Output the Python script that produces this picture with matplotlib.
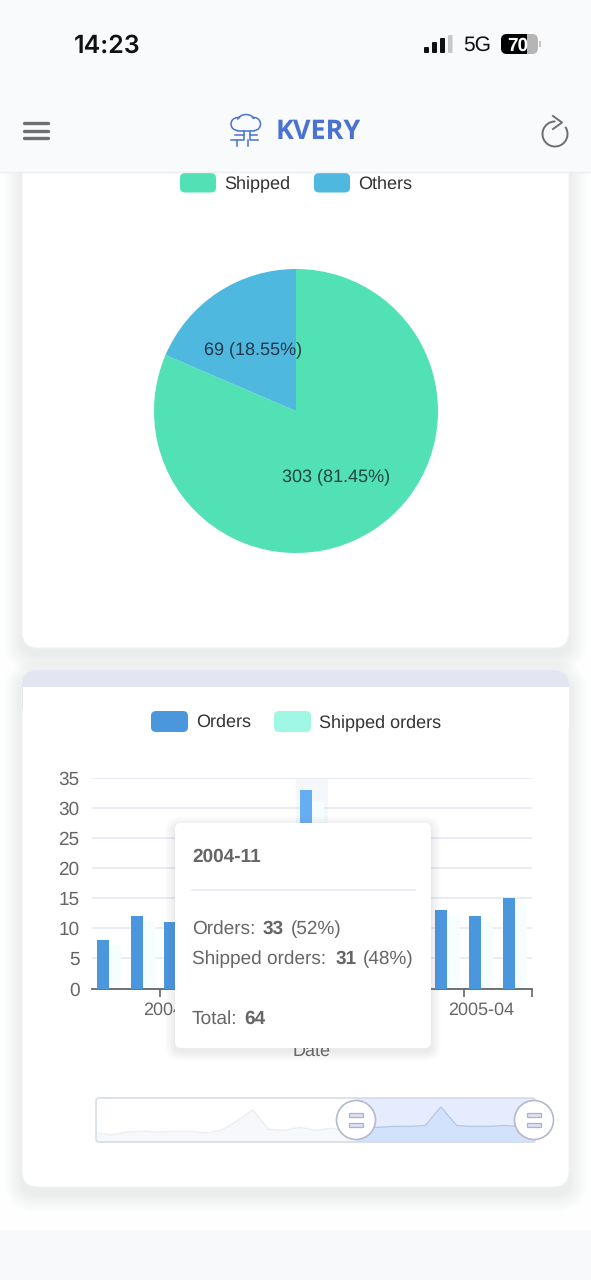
#!/usr/bin/env python3

import matplotlib
matplotlib.use('Agg')
import matplotlib.pyplot as plt
from matplotlib.patches import FancyBboxPatch, Rectangle, Circle, Arc

plt.rcParams['font.family'] = ['Liberation Sans', 'DejaVu Sans']
plt.rcParams['text.hinting'] = 'no_hinting'
plt.rcParams['text.hinting_factor'] = 1

W, H = 591, 1280

# pie
pie_labels = ['Shipped', 'Others']
pie_values = [303, 69]
pie_text = ['303 (81.45%)', '69 (18.55%)']
pie_colors = ['#52e0b5', '#4fb8de']

# bars, only the zoomed window of months
months = ['2004-05', '2004-06', '2004-07', '2004-08', '2004-09', '2004-10', '2004-11',
          '2004-12', '2005-01', '2005-02', '2005-03', '2005-04', '2005-05']
orders = [8, 12, 11, 12, 12, 13, 33, 13, 12, 12, 13, 12, 15]
shipped = [7, 11, 10, 12, 11, 13, 31, 12, 12, 11, 12, 11, 14]

# slider shadow, 2003-01 to 2005-05
shadow = [5, 3, 6, 7, 6, 7, 7, 5, 8, 18, 30, 9, 8, 11, 8, 10,
          8, 12, 11, 12, 12, 13, 33, 13, 12, 12, 13, 12, 15]

fig = plt.figure(figsize=(W / 100, H / 100), dpi=100, facecolor='#fefefe')


def px_axes(left, top, right, bottom, zorder):
    return fig.add_axes([left / W, 1 - bottom / H, (right - left) / W, (bottom - top) / H], zorder=zorder)


def rbox(ax, x0, y0, x1, y1, r, **kw):
    p = FancyBboxPatch((x0 + r, y0 + r), x1 - x0 - 2 * r, y1 - y0 - 2 * r,
                       boxstyle='round,pad=%g,rounding_size=%g' % (r, r), **kw)
    ax.add_patch(p)
    return p


def soft_shadow(ax, x0, y0, x1, y1, r, dy=2, steps=8, fc='#a8aab2', alpha=0.012):
    for i in range(steps, 0, -1):
        rbox(ax, x0 - i, y0 - i + dy, x1 + i, y1 + i + dy, r + i, fc=fc, ec='none', alpha=alpha)


# page background and cards
bg = px_axes(0, 0, W, H, 0)
bg.set_xlim(0, W)
bg.set_ylim(H, 0)
bg.axis('off')
soft_shadow(bg, 22, 120, 569, 648, 16, dy=7, steps=18)
rbox(bg, 22, 120, 569, 648, 16, fc='white', ec='#f1f2f4', lw=0.8)
soft_shadow(bg, 22, 670, 569, 1187, 16, dy=7, steps=18)
rbox(bg, 22, 670, 569, 1187, 16, fc='white', ec='#f1f2f4', lw=0.8)
rbox(bg, 22, 670, 569, 720, 16, fc='#e3e6f2', ec='none')
bg.add_patch(Rectangle((22.5, 687), 546, 40, fc='white', ec='none'))
bg.add_patch(Rectangle((0, 1230), W, 50, fc='#f8f9fb', ec='none'))

# pie chart
r = 142
pie_ax = px_axes(296 - r, 411 - r, 296 + r, 411 + r, 1)
pie_ax.pie(pie_values, colors=pie_colors, startangle=90, counterclock=False, radius=1)
pie_ax.set_xlim(-1, 1)
pie_ax.set_ylim(-1, 1)
pie_ax.text((336.5 - 296) / r, (411 - 476.5) / r, pie_text[0], fontsize=13, color='#224444', ha='center', va='center')
pie_ax.text((253.5 - 296) / r, (411 - 350) / r, pie_text[1], fontsize=13, color='#24384a', ha='center', va='center')

# bar chart
ax = px_axes(92, 778, 532, 988.5, 1)
x = list(range(len(months)))
ax.axvspan(5.5 + 0.03, 6.5 - 0.03, color='#eef3f9', alpha=0.6, lw=0, zorder=0)
ax.bar([i - 0.18 for i in x], orders, width=0.36, color=['#66aef2' if i == 6 else '#4b97dd' for i in x], zorder=3)
ax.bar([i + 0.18 for i in x], shipped, width=0.36, color='#f5fdfd', zorder=2)
ax.set_xlim(-0.5, 12.5)
ax.set_ylim(0, 35)
ax.set_yticks(range(0, 40, 5))
ax.yaxis.grid(True, color='#e6e9f5', lw=1.2)
ax.set_axisbelow(True)
ax.tick_params(axis='y', length=0, labelsize=13.4, labelcolor='#666666', pad=9)
ax.set_xticks([1.5, 4.5, 7.5, 10.5, 12.5])
ax.set_xticklabels([])
ax.tick_params(axis='x', length=6, width=1.2, color='#666666')
# the labels of 2004-10 and 2005-01 sit fully under the tooltip
for i in [2, 11]:
    ax.text(i, -3.6, months[i], fontsize=13.2, color='#666666', ha='center', va='center')
ax.text(6, -10.4, 'Date', fontsize=13, color='#666666', ha='center', va='center')
for s in ['top', 'left', 'right']:
    ax.spines[s].set_visible(False)
ax.spines['bottom'].set_color('#666666')
ax.spines['bottom'].set_linewidth(1.3)
ax.patch.set_alpha(0)

# slider
sl = px_axes(96, 1098, 535, 1142, 1)
sx = list(range(len(shadow)))
sel0, sel1 = 16.6, 28
sl.fill_between(sx, shadow, -4.7, color='#f7f8fb', lw=0)
sl.plot(sx, shadow, color='#eceef3', lw=1)
sl.axvspan(sel0, sel1, color='#e4ecfd', lw=0)
sel_x = [sel0] + [i for i in sx if i > sel0]
sel_y = [shadow[16] + (shadow[17] - shadow[16]) * 0.6] + [shadow[i] for i in sx if i > sel0]
sl.fill_between(sel_x, sel_y, -4.7, color='#d3e2fc', lw=0)
sl.plot(sel_x, sel_y, color='#b4c8ec', lw=1)
sl.set_xlim(0, 28)
sl.set_ylim(-4.7, 42.6)
sl.axis('off')

# overlay: app bar, legends, tooltip, slider handles
ov = px_axes(0, 0, W, H, 5)
ov.set_xlim(0, W)
ov.set_ylim(H, 0)
ov.axis('off')
ov.patch.set_alpha(0)

rbox(ov, 96, 1098, 535, 1142, 3, fc='none', ec='#d6dbe8', lw=1.2)

ov.add_patch(Rectangle((0, 0), W, 172, fc='#f9fafc', ec='none'))
ov.plot([0, W], [172, 172], color='#eceef1', lw=1)
ov.text(74, 46, '14:23', fontsize=18, family='Inter', weight='semibold', color='#111111', va='center')

# signal bars
for bx, bw, bh, c in [(424, 5, 6, '#111111'), (432, 5, 11, '#111111'), (440, 5, 15, '#111111'), (448, 4.5, 18, '#c8c8c8')]:
    rbox(ov, bx, 53 - bh, bx + bw, 53, 1, fc=c, ec='none')
ov.text(463, 45.5, '5G', fontsize=15, color='#111111', va='center')
rbox(ov, 501, 34, 538, 54, 6, fc='#b5b5b5', ec='none')
rbox(ov, 501, 34, 527, 54, 6, fc='#000000', ec='none')
ov.add_patch(Rectangle((521, 34), 6, 20, fc='#000000', ec='none'))
ov.text(518, 46, '70', fontsize=14, weight='bold', color='white', ha='center', va='center')
ov.add_patch(Rectangle((539, 41), 1.5, 6, fc='#c8c8c8', ec='none'))

# hamburger
for hy in [123, 130.5, 138]:
    ov.plot([24, 48], [hy, hy], color='#6d6e70', lw=2.4, solid_capstyle='round')

# cloud logo
logo = '#4a72d3'
ov.add_patch(Arc((238, 124), 14, 13, theta1=90, theta2=290, color=logo, lw=1.1))
ov.add_patch(Arc((246, 122), 18, 15, theta1=195, theta2=340, color=logo, lw=1.1))
ov.add_patch(Arc((254, 124), 13, 13, theta1=250, theta2=90, color=logo, lw=1.1))
ov.plot([238, 254], [130.5, 130.5], color=logo, lw=1.1)
ov.plot([244, 244, 231], [130.5, 140, 140], color=logo, lw=1.1)
ov.plot([250, 250, 258], [130.5, 140, 140], color=logo, lw=1.1)
ov.plot([235, 244], [134.5, 134.5], color=logo, lw=1.1)
ov.plot([250, 257], [134.5, 134.5], color=logo, lw=1.1)
ov.plot([237, 237], [140, 146], color=logo, lw=1.1)
ov.plot([248, 248], [140, 146], color=logo, lw=1.1)
ov.text(276, 132, 'KVERY', fontsize=19.4, weight='bold', color='#4a72d3', va='center', family='Open Sans')

# refresh icon
ref_c = '#6d6e70'
ov.add_patch(Arc((555, 134), 25, 25, theta1=-35, theta2=272, color=ref_c, lw=1.4))
ov.plot([553, 562, 553], [116, 122.5, 129], color=ref_c, lw=1.4)

# pie legend
lx = [(180, 216, pie_colors[0], pie_labels[0], 224), (314, 350, pie_colors[1], pie_labels[1], 358)]
for x0, x1, c, t, tx in lx:
    rbox(ov, x0, 173, x1, 192.5, 5, fc=c, ec='none')
    ov.text(tx, 184, t, fontsize=13, color='#333333', va='center')

# bar legend
rbox(ov, 151, 711, 188, 732, 5, fc='#4b97dd', ec='none')
ov.text(196, 722.5, 'Orders', fontsize=13, color='#333333', va='center')
rbox(ov, 274, 711, 311, 732, 5, fc='#a0f7e4', ec='none')
ov.text(319, 722.5, 'Shipped orders', fontsize=13, color='#333333', va='center')

# tooltip
soft_shadow(ov, 175, 823, 431, 1048, 6, dy=3, steps=10, fc='#808490', alpha=0.012)
rbox(ov, 175, 823, 431, 1048, 6, fc='white', ec='none')
tc = '#666666'
ov.text(192, 856.5, '2004-11', fontsize=14, weight='bold', color=tc, va='center')
ov.plot([192, 415], [890, 890], color='#e6e9f5', lw=1.2)


def tip_line(y, parts):
    # runs of normal and bold text placed one after the other
    for cx, s, bold in parts:
        ov.text(cx, y, s, fontsize=13.9, color=tc, va='center', weight='bold' if bold else 'normal')


tip_line(929, [(192, 'Orders:', False), (262.5, '33', True), (291, '(52%)', False)])
tip_line(959, [(192, 'Shipped orders:', False), (335.5, '31', True), (363, '(48%)', False)])
tip_line(1019, [(192, 'Total:', False), (244, '64', True)])

# slider handles
for hx in [356, 534]:
    ov.add_patch(Circle((hx, 1120), 19.5, fc='white', ec='#b3bacd', lw=1.2))
    for hy in [1115, 1125]:
        ov.add_patch(Rectangle((hx - 7, hy - 1.7), 14, 3.4, fc='#dde3f3', ec='#aab3cc', lw=0.9))

fig.savefig('out.png', dpi=100, facecolor=fig.get_facecolor())
